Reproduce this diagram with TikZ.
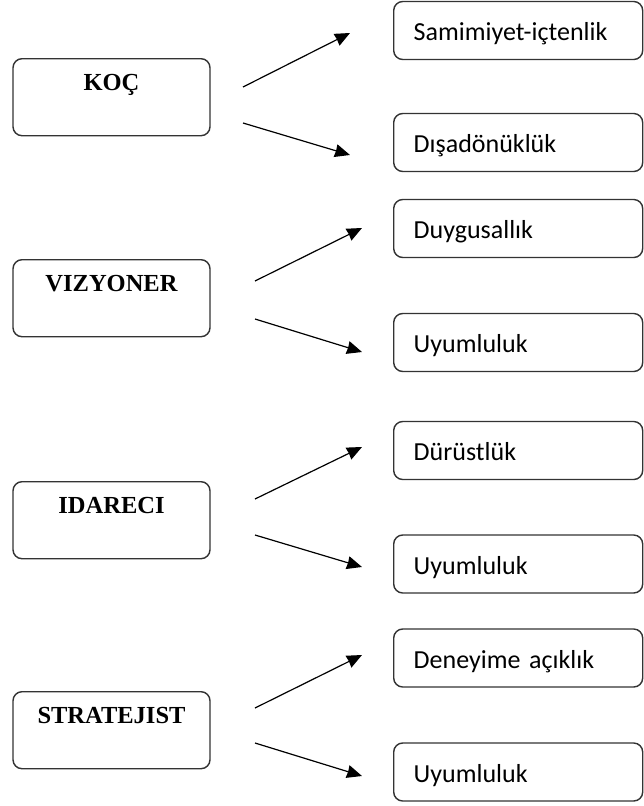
\documentclass[tikz,border=0pt]{standalone}
\usepackage{fontspec}
\setmainfont{Liberation Serif}
\newfontfamily\calibri{Carlito}
\usepackage{xcolor}
\usepackage{tikz}
\usetikzlibrary{arrows.meta, positioning}

\definecolor{kenar}{HTML}{333333}

\tikzset{
    tip/.style={draw=kenar, line width=1.4pt, rounded corners=9pt, fill=white,
        minimum width=197pt, minimum height=77pt, inner sep=0pt,
        text height=32pt, text depth=45pt, font=\fontsize{24.5}{26}\selectfont\bfseries, anchor=north},
    ozellik/.style={draw=kenar, line width=1.4pt, rounded corners=9pt, fill=white,
        text width=209pt, inner xsep=20pt, inner ysep=0pt, minimum height=58pt,
        text height=22pt, text depth=2pt, align=left, anchor=west,
        font=\calibri\fontsize{26}{28}\selectfont},
    ok/.style={->, line width=1.2pt, black}
}

\begin{document}
\begin{tikzpicture}[x=1pt, y=-1pt, >={Stealth[length=15pt, width=13pt, inset=0.5pt]}]
    \useasboundingbox (0,0) rectangle (644,806);

    % sol kutular
    \node[tip] (koc) at (111.5,58) {KOÇ};
    \node[tip] (vizyoner) at (111.5,259) {VIZYONER};
    \node[tip] (idareci) at (111.5,481) {IDARECI};
    \node[tip] (stratejist) at (111.5,691) {STRATEJIST};

    % sag kutular
    \node[ozellik] (samimiyet) at (393,30.5) {Samimiyet-içtenlik};
    \node[ozellik] (disadonuk) at (393,142.5) {Dışadönüklük};
    \node[ozellik] (duygusal) at (393,228.5) {Duygusallık};
    \node[ozellik] (uyum1) at (393,342.5) {Uyumluluk};
    \node[ozellik] (durust) at (393,450.5) {Dürüstlük};
    \node[ozellik] (uyum2) at (393,564) {Uyumluluk};
    \node[ozellik] (deneyim) at (393,658) {Deneyime açıklık};
    \node[ozellik] (uyum3) at (393,772) {Uyumluluk};

    % ok uclari
    \coordinate (koc1) at (243,87);   \coordinate (samimiyet1) at (350,33);
    \coordinate (koc2) at (243,123);  \coordinate (disadonuk1) at (350,155);
    \coordinate (viz1) at (255,281);  \coordinate (duygusal1) at (362,228);
    \coordinate (viz2) at (255,319);  \coordinate (uyum11) at (362,352);
    \coordinate (ida1) at (255,499);  \coordinate (durust1) at (362,447);
    \coordinate (ida2) at (255,535);  \coordinate (uyum21) at (362,567);
    \coordinate (str1) at (255,708);  \coordinate (deneyim1) at (362,655);
    \coordinate (str2) at (255,743);  \coordinate (uyum31) at (362,776);

    % oklar
    \draw[ok] (koc1) -- (samimiyet1);
    \draw[ok] (koc2) -- (disadonuk1);
    \draw[ok] (viz1) -- (duygusal1);
    \draw[ok] (viz2) -- (uyum11);
    \draw[ok] (ida1) -- (durust1);
    \draw[ok] (ida2) -- (uyum21);
    \draw[ok] (str1) -- (deneyim1);
    \draw[ok] (str2) -- (uyum31);
\end{tikzpicture}
\end{document}
